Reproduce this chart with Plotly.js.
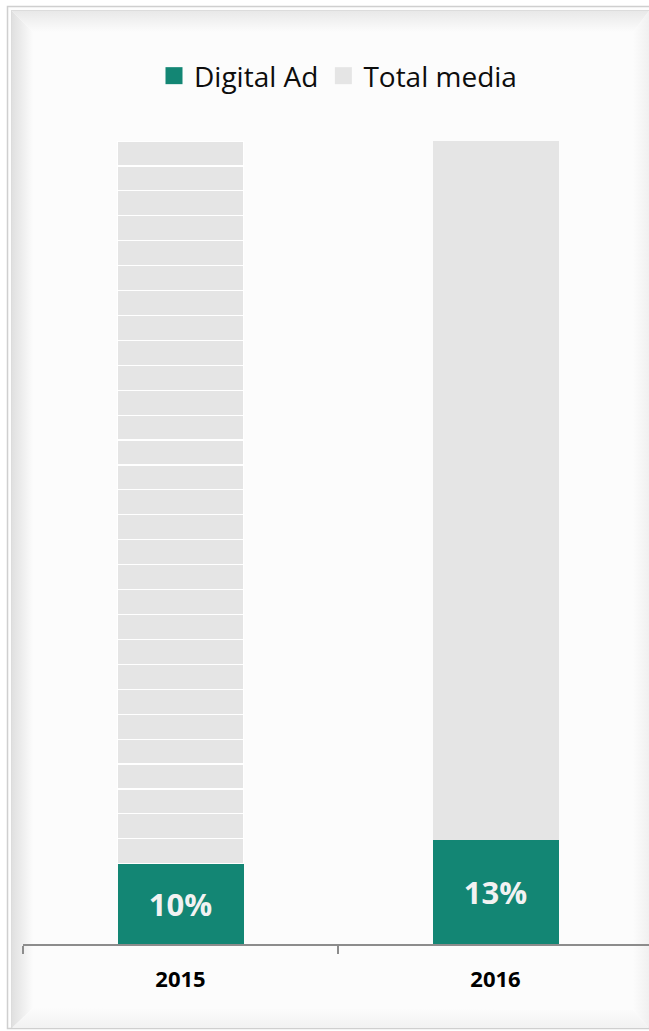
<!DOCTYPE html>
<html>
<head>
<meta charset="utf-8">
<script src="https://cdn.plot.ly/plotly-3.0.1.min.js"></script>
<style>
  html, body { margin: 0; padding: 0; background: #ffffff; width: 649px; height: 1031px; overflow: hidden; position: relative; }
  #frame { position: absolute; left: 0; top: 0; }
  #chart { position: absolute; left: 0; top: 0; width: 661px; height: 1031px; }
</style>
</head>
<body>
<svg id="frame" width="649" height="1031" xmlns="http://www.w3.org/2000/svg">
  <defs>
    <linearGradient id="gl" x1="0" y1="0" x2="1" y2="0">
      <stop offset="0" stop-color="#e0e0e0"/><stop offset="1" stop-color="#fcfcfc"/>
    </linearGradient>
    <linearGradient id="gt" x1="0" y1="0" x2="0" y2="1">
      <stop offset="0" stop-color="#e8e8e8"/><stop offset="1" stop-color="#fcfcfc"/>
    </linearGradient>
    <linearGradient id="gr" x1="1" y1="0" x2="0" y2="0">
      <stop offset="0" stop-color="#f0f0f0"/><stop offset="1" stop-color="#fcfcfc"/>
    </linearGradient>
    <linearGradient id="gb" x1="0" y1="1" x2="0" y2="0">
      <stop offset="0" stop-color="#f2f2f2"/><stop offset="1" stop-color="#fcfcfc"/>
    </linearGradient>
  </defs>
  <rect x="7.5" y="6.5" width="650" height="1022" fill="#fdfdfd" stroke="#cfcfcf" stroke-width="1.5"/>
  <rect x="11.5" y="10.5" width="640" height="1017" fill="#fcfcfc" stroke="#dcdcdc" stroke-width="1"/>
  <polygon points="12,11 33,32 33,1008 12,1028" fill="url(#gl)"/>
  <polygon points="12,11 649,11 633,32 33,32" fill="url(#gt)"/>
  <polygon points="649,11 633,32 633,1010 649,1028" fill="url(#gr)"/>
  <polygon points="12,1028 33,1008 633,1010 649,1028" fill="url(#gb)"/>
</svg>
<div id="chart"></div>
<script>
// Data
var years = ['2015', '2016'];
var digitalAd = [10, 13];          // % share, digital ad
var totalMedia = [90, 87];         // % remainder, total media
var tiles2015 = 29;                // number of stacked tiles drawn in the 2015 grey bar

var teal = '#138674';
var grey = '#e5e5e5';

// Build the total media trace: the 2015 bar is drawn as a stack of equal tiles
var tmX = [], tmY = [], tmLine = [];
for (var i = 0; i < tiles2015; i++) {
  tmX.push(years[0]); tmY.push(totalMedia[0] / tiles2015); tmLine.push(1.2);
}
tmX.push(years[1]); tmY.push(totalMedia[1]); tmLine.push(0);

var traces = [
  {
    type: 'bar', name: 'Digital Ad', x: years, y: digitalAd,
    marker: { color: teal, line: { width: 0 } },
    text: digitalAd.map(function (v) { return v + '%'; }),
    textposition: 'inside', insidetextanchor: 'middle',
    textfont: { family: 'Open Sans', size: 31, color: '#f2f2f2', weight: 'bold' },
    hoverinfo: 'skip'
  },
  {
    type: 'bar', name: 'Total media', x: tmX, y: tmY,
    marker: { color: grey, line: { color: '#ffffff', width: tmLine } },
    hoverinfo: 'skip'
  }
];

var layout = {
  width: 661, height: 1031,
  margin: { l: 23, r: 8, t: 141, b: 87 },
  paper_bgcolor: 'rgba(0,0,0,0)',
  plot_bgcolor: 'rgba(0,0,0,0)',
  barmode: 'stack',
  bargap: 0.6,
  showlegend: true,
  legend: {
    orientation: 'h', x: 0.5, xanchor: 'center', y: 1.081, yanchor: 'middle',
    traceorder: 'normal', itemgap: 0,
    font: { family: 'Open Sans', size: 28, color: '#0d0d0d' },
    itemclick: false, itemdoubleclick: false,
    bgcolor: 'rgba(0,0,0,0)'
  },
  xaxis: {
    type: 'category',
    showline: true, linecolor: '#8c8c8c', linewidth: 2,
    ticks: 'outside', tickson: 'boundaries', ticklen: 8, tickwidth: 2, tickcolor: '#8c8c8c',
    tickfont: { family: 'Open Sans', size: 22, color: '#000000', weight: 'bold' },
    ticklabelstandoff: 15,
    showgrid: false, zeroline: false, fixedrange: true
  },
  yaxis: {
    range: [0, 100], visible: false, showgrid: false, zeroline: false, fixedrange: true
  }
};

Plotly.newPlot('chart', traces, layout, { displayModeBar: false, staticPlot: true }).then(function () {
  var pts = document.querySelectorAll('.legend .legendpoints path');
  pts.forEach(function (p) {
    p.setAttribute('d', 'M8.5,8.5H-8.5V-8.5H8.5Z');
    p.style.strokeWidth = '0px';
  });
});
</script>
</body>
</html>
